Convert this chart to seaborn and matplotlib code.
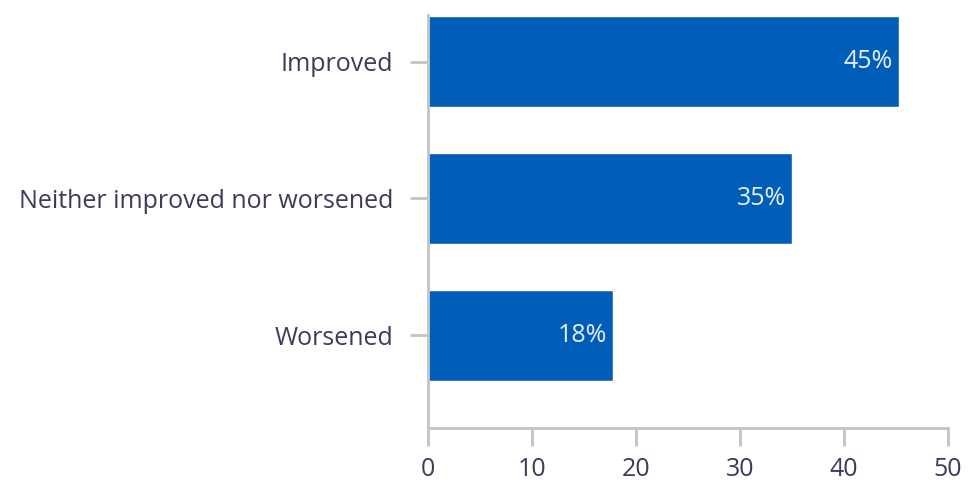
import numpy as np
import pandas as pd
import matplotlib
matplotlib.use("Agg")
import matplotlib.pyplot as plt
import seaborn as sns

categories = ["Improved", "Neither improved nor worsened", "Worsened"]
values = [45.3, 35, 17.8]
labels = ["45%", "35%", "18%"]

sns.set_style("white")
plt.rcParams["font.family"] = ["Open Sans", "DejaVu Sans"]

text_color = "#3b3b5c"
grey = "#c4c4c4"
blue = "#005EB8"

df = pd.DataFrame({"category": categories, "value": values})

fig = plt.figure(figsize=(9.69, 4.84), dpi=100)
ax = fig.add_axes([0.4417, 0.1157, 0.5366, 0.853])

sns.barplot(data=df, x="value", y="category", orient="h", color=blue,
            saturation=1, width=0.667, ax=ax)

for i, (v, lab) in enumerate(zip(values, labels)):
    ax.text(v - 0.6, i, lab, ha="right", va="center", color="#e6eef8",
            fontsize=18)

ax.set_xlim(0, 50)
ax.set_ylim(2.678, -0.34)
ax.set_xticks(np.arange(0, 51, 10))
ax.set_xlabel("")
ax.set_ylabel("")

for s in ["top", "right"]:
    ax.spines[s].set_visible(False)
for s in ["left", "bottom"]:
    ax.spines[s].set_color(grey)
    ax.spines[s].set_linewidth(2)

ax.tick_params(axis="x", bottom=True, length=13, width=2, color=grey,
               labelcolor=text_color, labelsize=18, pad=8, direction="out")
ax.tick_params(axis="y", left=True, length=13, width=2, color=grey,
               labelcolor=text_color, labelsize=18, pad=12, direction="out")

fig.savefig("out.png", dpi=100)
